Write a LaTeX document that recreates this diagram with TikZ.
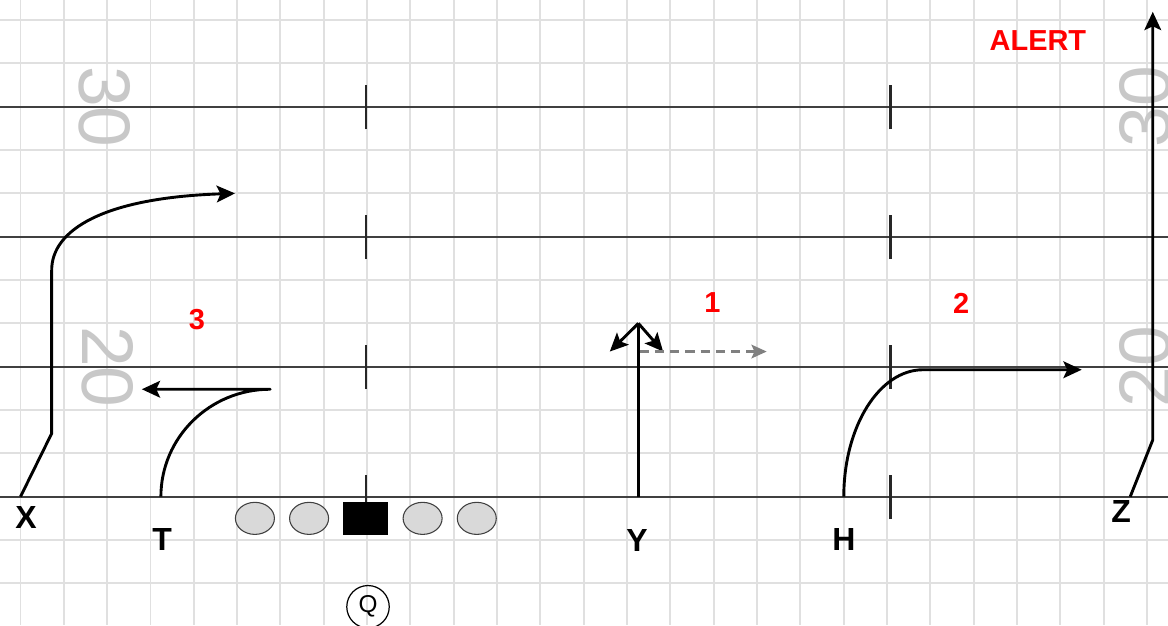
\documentclass[tikz,border=0pt]{standalone}
\usepackage{fontspec}
\setmainfont{Liberation Sans}
\usepackage{tikz}
\usetikzlibrary{arrows.meta,shapes.geometric}
\definecolor{gridGray}{HTML}{E0E0E0}
\definecolor{yardGray}{HTML}{C8C8C8}
\definecolor{lineDark}{HTML}{404040}
\definecolor{alertRed}{HTML}{FF0000}

\begin{document}
\begin{tikzpicture}[
    gridline/.style={gridGray, line width=1.3pt},
    yardline/.style={lineDark, line width=1.1pt},
    hashmark/.style={black!85, line width=1.7pt},
    route/.style={black, line width=1.9pt, line join=round, -{Stealth[length=12pt,width=11pt,inset=2.5pt]}},
    option/.style={black!50, line width=1.4pt, dash pattern=on 6pt off 4pt, -{Stealth[length=10pt,width=9pt,inset=2pt]}},
    player/.style={font=\fontsize{21}{21}\selectfont\bfseries, inner sep=0pt},
    callout/.style={alertRed, font=\fontsize{19}{19}\selectfont\bfseries, inner sep=0pt},
    yardnum/.style={yardGray, font=\fontsize{48}{48}\selectfont, inner sep=0pt},
    lineman/.style={ellipse, draw=black!75, line width=0.7pt, fill=black!15, minimum width=0.9cm, minimum height=0.74cm, inner sep=0pt},
    snapper/.style={rectangle, fill=black, minimum width=1.04cm, minimum height=0.76cm, inner sep=0pt},
    qb/.style={circle, draw=black, line width=0.8pt, minimum size=0.98cm, inner sep=0pt, font=\fontsize{16}{16}\selectfont}]
  \useasboundingbox[fill=white] (-0.473,-2.961) rectangle (26.482,11.463);
  \foreach \x in {0,...,26}
    \draw[gridline] (\x,-2.961) -- (\x,11.463);
  \foreach \y in {-2,...,11}
    \draw[gridline] (-0.473,\y) -- (26.482,\y);
  \foreach \y in {0,3,6,9}
    \draw[yardline] (-0.473,\y) -- (26.482,\y);
  \node[yardnum, rotate=-90] (l30) at (1.95,9) {30};
  \node[yardnum, rotate=-90] (l20) at (2.02,3) {20};
  \node[yardnum, rotate=90] (r30) at (25.95,9) {30};
  \node[yardnum, rotate=90] (r20) at (25.95,3) {20};
  \foreach \hx in {7.97,20.08}
    \foreach \y in {0,3,6,9}
      \draw[hashmark] (\hx,\y-0.52) -- (\hx,\y+0.5);
  \foreach \lx [count=\i] in {5.41,6.66,9.28,10.53}
    \node[lineman] (ol\i) at (\lx,-0.5) {};
  \node[snapper] (C) at (7.97,-0.5) {};
  \node[qb] (Q) at (8.02,-2.54) {Q};
  \node[player] (X) at (0.13,-0.48) {X};
  \node[player] (T) at (3.27,-0.99) {T};
  \node[player] (Y) at (14.23,-1.0) {Y};
  \node[player] (H) at (19.0,-0.98) {H};
  \node[player] (Z) at (25.4,-0.35) {Z};
  \coordinate (xs) at (0,0);
  \coordinate (ts) at (3.24,0);
  \coordinate (ys) at (14.26,0);
  \coordinate (hs) at (19.0,0);
  \coordinate (zs) at (25.61,0);
  \coordinate (ytop) at (14.26,4.0);
  \draw[route] (xs) -- (0.72,1.46) -- (0.72,5.23)
    .. controls (0.72,6.15) and (1.9,6.9) .. (4.95,7.0);
  \draw[route] (ts) .. controls (3.24,1.37) and (4.37,2.48) .. (5.76,2.48) -- (2.8,2.48);
  \draw[route, -] (ys) -- (ytop);
  \draw[route] (ytop) -- (13.6,3.35);
  \draw[route] (ytop) -- (14.83,3.35);
  \draw[option] (14.29,3.35) -- (17.22,3.35);
  \draw[route] (hs) .. controls (19.0,1.62) and (19.82,2.93) .. (20.83,2.93) -- (24.49,2.93);
  \draw[route] (zs) -- (26.13,1.31) -- (26.13,11.19);
  \node[callout] (alert) at (23.48,10.53) {ALERT};
  \node[callout] (n1) at (15.97,4.48) {1};
  \node[callout] (n2) at (21.71,4.47) {2};
  \node[callout] (n3) at (4.07,4.08) {3};
\end{tikzpicture}
\end{document}
